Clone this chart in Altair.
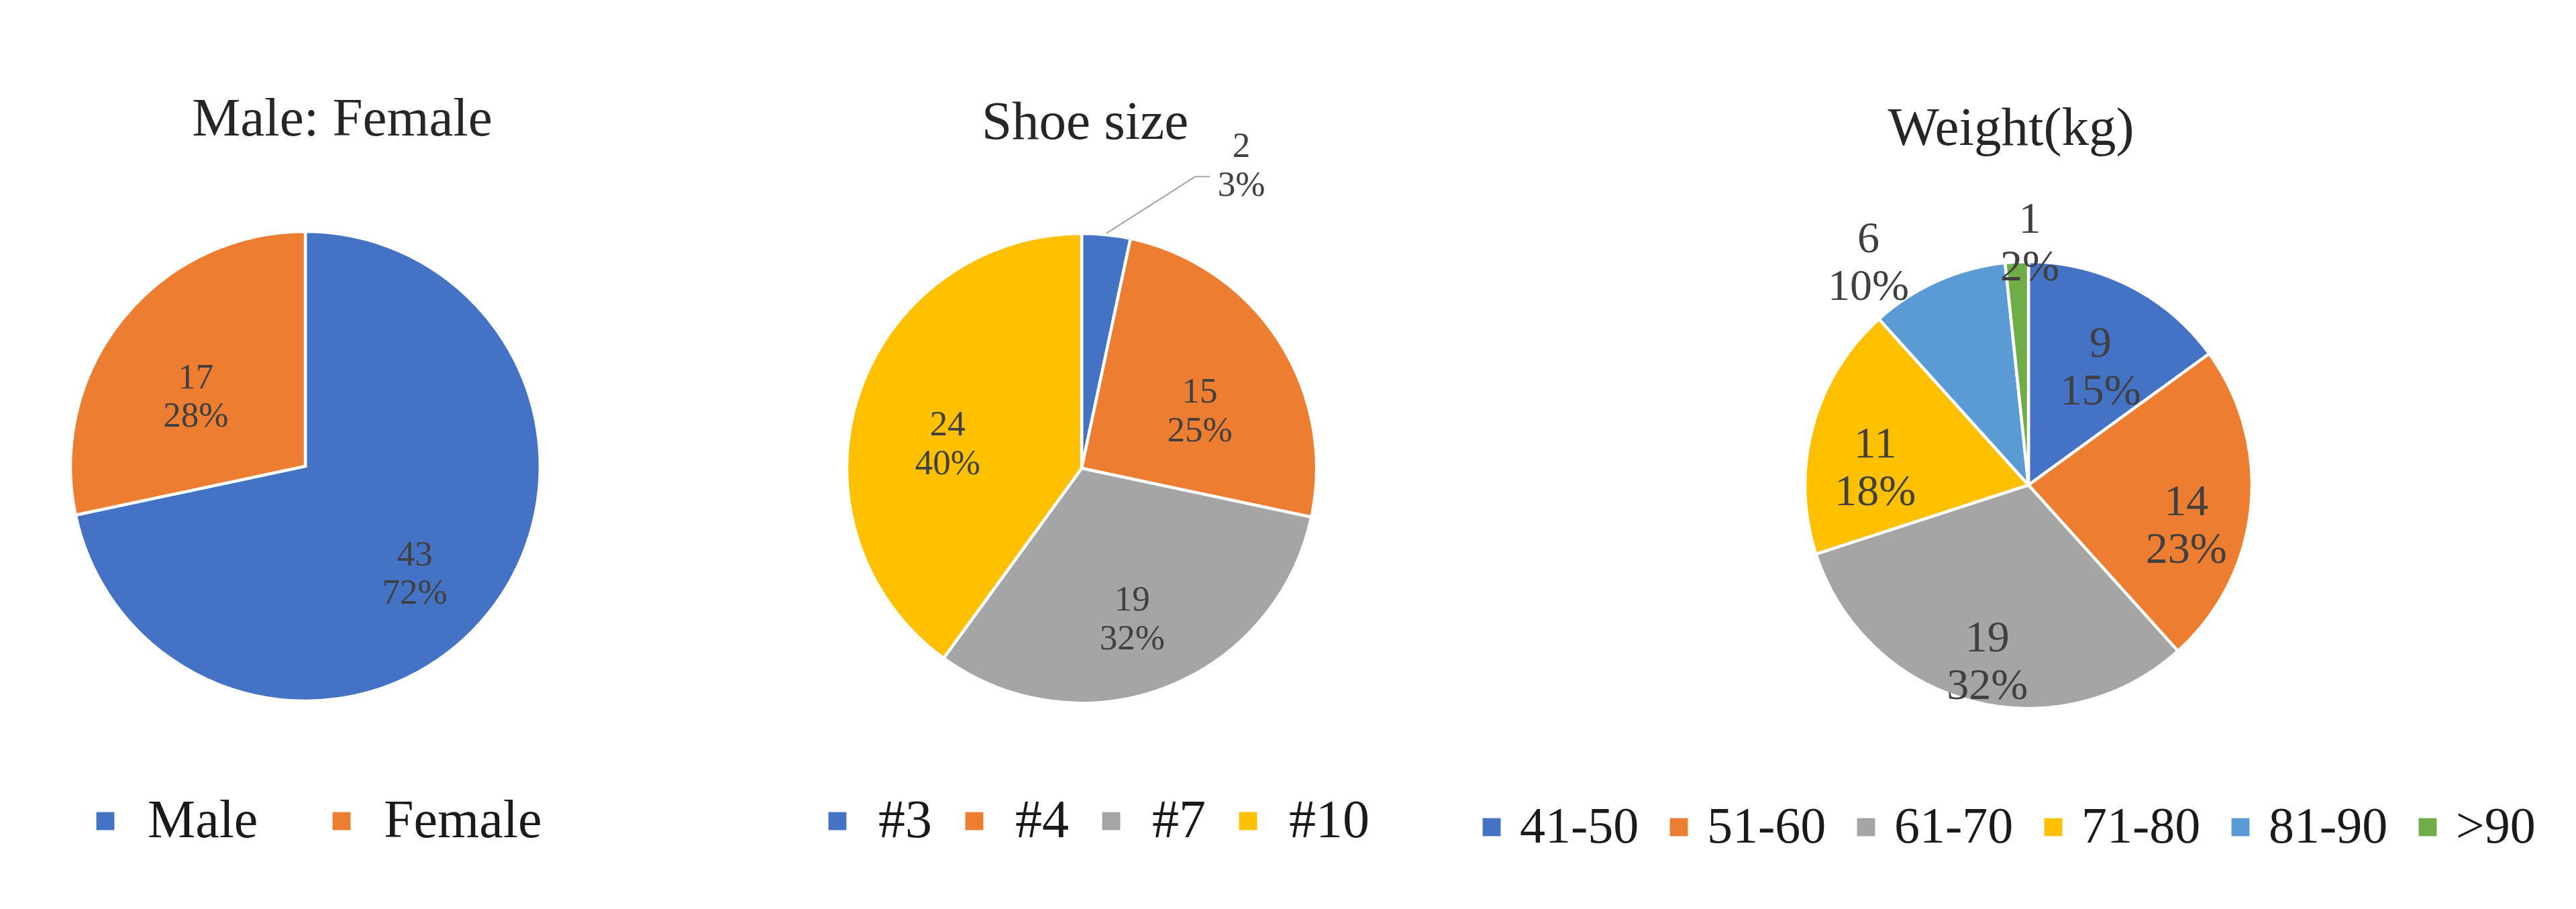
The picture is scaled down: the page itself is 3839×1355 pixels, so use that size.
import math
import altair as alt
import pandas as pd

# ---------------- data ----------------
sex_categories = ["Male", "Female"]
sex_counts = [43, 17]

shoe_categories = ["#3", "#4", "#7", "#10"]
shoe_counts = [2, 15, 19, 24]

weight_categories = ["41-50", "51-60", "61-70", "71-80", "81-90", ">90"]
weight_counts = [9, 14, 19, 11, 6, 1]

titles = ["Male: Female", "Shoe size", "Weight(kg)"]

palette = ["#4472C4", "#ED7D31", "#A5A5A5", "#FFC000", "#5B9BD5", "#70AD47"]
SERIF = "Liberation Serif"


def build_table(cats, counts, radius, label_frac, overrides):
    """Slice table with mid angles and label placement (best-fit overrides for small slices)."""
    total = sum(counts)
    rows, cum = [], 0
    for i, (c, v) in enumerate(zip(cats, counts)):
        mid = (cum + v / 2) / total * 2 * math.pi
        cum += v
        ang, r = mid, radius * label_frac
        if c in overrides:
            dang, rf = overrides[c]
            ang = mid + math.radians(dang)
            r = radius * rf
        rows.append(dict(cat=c, value=v, idx=i,
                         label=f"{v}\n{round(v / total * 100)}%",
                         mid=mid, lang=ang, lrad=r))
    return pd.DataFrame(rows)


def pie(cats, counts, title, tx, ty, W, H, cx, cy, R, label_size, label_lh,
        label_frac, overrides, lx, ly, lfont, loffset, lcolpad, leader=None):
    df = build_table(cats, counts, R, label_frac, overrides)
    color = alt.Color(
        "cat:N", sort=cats,
        scale=alt.Scale(domain=cats, range=palette[:len(cats)]),
        legend=alt.Legend(
            title=None, orient="none", direction="horizontal",
            legendX=lx, legendY=ly, symbolType="square", symbolSize=720,
            symbolStrokeWidth=0, labelFont=SERIF, labelFontSize=lfont,
            labelColor="#1a1a1a", labelOffset=loffset,
            columnPadding=lcolpad, labelLimit=0),
    )
    arcs = alt.Chart(df).mark_arc(outerRadius=R, stroke="white", strokeWidth=4.5).encode(
        theta=alt.Theta("value:Q", stack=True),
        order=alt.Order("idx:Q"),
        color=color,
        x=alt.value(cx), y=alt.value(cy),
    )
    texts = alt.Chart(df).mark_text(
        font=SERIF, fontSize=label_size, lineHeight=label_lh, lineBreak="\n",
        color="#404040", align="center", baseline="middle",
    ).encode(
        theta=alt.Theta("lang:Q", scale=None, stack=None),
        radius=alt.Radius("lrad:Q", scale=None),
        text="label:N",
        x=alt.value(cx), y=alt.value(cy),
    )
    head = alt.Chart(pd.DataFrame({"t": [title]})).mark_text(
        font=SERIF, fontSize=81, color="#262626", align="center", baseline="alphabetic",
    ).encode(text="t:N", x=alt.value(tx), y=alt.value(ty))
    layers = [arcs, texts, head]
    if leader is not None:
        row = df[df["cat"] == leader].iloc[0]
        mid, lang, lrad = float(row["mid"]), float(row["lang"]), float(row["lrad"])
        sx = cx + (R + 2) * math.sin(mid)
        sy = cy - (R + 2) * math.cos(mid)
        lxp = cx + lrad * math.sin(lang)
        lyp = cy - lrad * math.cos(lang)
        ex, ey = lxp - 69, lyp + 45
        seg = pd.DataFrame([
            dict(x=sx, y=sy, x2=ex, y2=ey),
            dict(x=ex, y=ey, x2=ex + 22, y2=ey),
        ])
        rule = alt.Chart(seg).mark_rule(color="#A5A5A5", strokeWidth=2).encode(
            x=alt.X("x:Q", scale=None), y=alt.Y("y:Q", scale=None),
            x2="x2:Q", y2="y2:Q",
        )
        layers.append(rule)
    return alt.layer(*layers).properties(width=W, height=H)


H = 1300
p1 = pie(sex_categories, sex_counts, titles[0], 502, 194, 1004, H,
         447, 687, 350, 53, 57, 0.6, {},
         109, 1176, 80, 23, 84)
p2 = pie(shoe_categories, shoe_counts, titles[1], 605, 199, 1210, H,
         600, 690, 350, 53, 58, 0.6, {"#3": (20.4, 1.53)},
         196, 1176, 80, 21, 23, leader="#3")
p3 = pie(weight_categories, weight_counts, titles[2], 775, 208, 1600, H,
         801, 715, 333, 66, 71, 0.71,
         {"81-90": (-9, 1.315), ">90": (3.3, 1.19)},
         -37, 1187, 76, 4, 21)

chart = alt.hconcat(p1, p2, p3, spacing=0, bounds="flush").resolve_scale(
    color="independent", theta="independent", radius="independent"
).properties(padding=0, background="white").configure_view(stroke=None)

chart.save("out.html", embed_options={"renderer": "svg", "actions": False})
